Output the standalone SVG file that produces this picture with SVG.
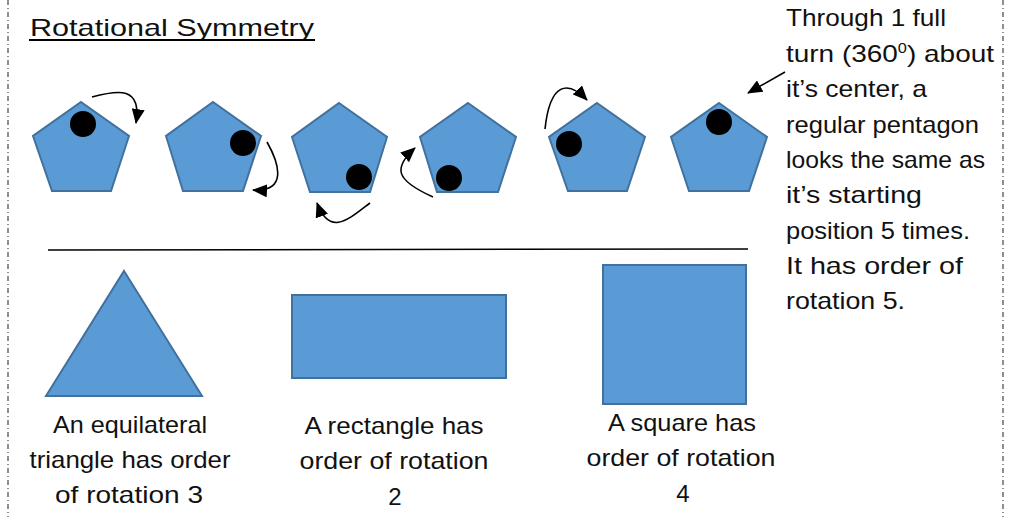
<svg xmlns="http://www.w3.org/2000/svg" width="1013" height="517" viewBox="0 0 1013 517">
<style>
.shape{fill:#5B9BD5;stroke:#41719C;stroke-width:2}
.dot{fill:#000}
.arr{fill:none;stroke:#000;stroke-width:1.6;marker-end:url(#ah)}
.t{font-family:"Liberation Sans",Arial,sans-serif;font-size:24px;fill:#111}
.c{text-anchor:middle}
.border{stroke:#444;stroke-width:1.2;stroke-dasharray:5 3 1 3}
</style>
<defs>
<marker id="ah" markerUnits="userSpaceOnUse" viewBox="0 0 15 13" refX="14" refY="6.5" markerWidth="15" markerHeight="13" orient="auto">
<path d="M0,0 L15,6.5 L0,13 z" fill="#000"/>
</marker>
</defs>
<rect width="1013" height="517" fill="#fff"/>
<line class="border" x1="8" y1="0" x2="8" y2="517"/>
<line class="border" x1="1003" y1="0" x2="1003" y2="517"/>
<g id="title">
<text class="t" x="30" y="36" font-size="28" textLength="284" lengthAdjust="spacingAndGlyphs">Rotational Symmetry</text>
<line x1="29" y1="40" x2="315" y2="40" stroke="#000" stroke-width="2"/>
</g>
<g id="pentagon1">
<polygon class="shape" points="81,102 129,136 111,191 52,191 33,136"/>
<circle class="dot" cx="83" cy="124" r="13"/>
</g>
<g id="pentagon2">
<polygon class="shape" points="213,102 261,136 243,191 183,191 166,136"/>
<circle class="dot" cx="243" cy="143" r="13"/>
</g>
<g id="pentagon3">
<polygon class="shape" points="339,103 387,137 370,192 310,192 292,137"/>
<circle class="dot" cx="359" cy="177" r="13"/>
</g>
<g id="pentagon4">
<polygon class="shape" points="468,103 516,137 498,192 437,192 420,137"/>
<circle class="dot" cx="449" cy="178" r="13"/>
</g>
<g id="pentagon5">
<polygon class="shape" points="597,103 645,137 627,191 568,191 549,137"/>
<circle class="dot" cx="569" cy="144" r="13"/>
</g>
<g id="pentagon6">
<polygon class="shape" points="719,103 767,137 749,191 689,191 671,137"/>
<circle class="dot" cx="719" cy="122" r="13"/>
</g>
<g id="connectors">
<path class="arr" d="M92,97 C118,90 142,86 136,123"/>
<path class="arr" d="M267,142 C280,165 287,192 253,190"/>
<path class="arr" d="M370,203 C350,218 330,238 317,203"/>
<path class="arr" d="M433,197 C395,180 393,168 415,148"/>
<path class="arr" d="M545,129 C550,82 568,80 587,100"/>
<path class="arr" d="M785,72 L748,93"/>
</g>
<line x1="48" y1="250" x2="748" y2="249" stroke="#000" stroke-width="1.5"/>
<g id="triangle">
<polygon class="shape" points="124,271 202,396 46,396"/>
<text class="t c" x="130" y="433" textLength="154" lengthAdjust="spacingAndGlyphs">An equilateral</text>
<text class="t c" x="130" y="468" textLength="201" lengthAdjust="spacingAndGlyphs">triangle has order</text>
<text class="t c" x="129" y="503" textLength="148" lengthAdjust="spacingAndGlyphs">of rotation 3</text>
</g>
<g id="rectangle">
<rect class="shape" x="292" y="295" width="214" height="83"/>
<text class="t c" x="394" y="434" textLength="179" lengthAdjust="spacingAndGlyphs">A rectangle has</text>
<text class="t c" x="394" y="469" textLength="189" lengthAdjust="spacingAndGlyphs">order of rotation</text>
<text class="t c" x="395" y="505" font-size="27">2</text>
</g>
<g id="square">
<rect class="shape" x="603" y="265" width="143" height="139"/>
<text class="t c" x="682" y="431" textLength="148" lengthAdjust="spacingAndGlyphs">A square has</text>
<text class="t c" x="681" y="466" textLength="189" lengthAdjust="spacingAndGlyphs">order of rotation</text>
<text class="t c" x="683" y="502" font-size="27">4</text>
</g>
<g id="note">
<text class="t" x="786" y="26" textLength="160" lengthAdjust="spacingAndGlyphs">Through 1 full</text>
<text class="t" x="786" y="62" textLength="208" lengthAdjust="spacingAndGlyphs">turn (360<tspan font-size="14" dy="-9">0</tspan><tspan dy="9">) about</tspan></text>
<text class="t" x="786" y="97" textLength="141" lengthAdjust="spacingAndGlyphs">it’s center, a</text>
<text class="t" x="786" y="133" textLength="193" lengthAdjust="spacingAndGlyphs">regular pentagon</text>
<text class="t" x="786" y="168" textLength="199" lengthAdjust="spacingAndGlyphs">looks the same as</text>
<text class="t" x="786" y="203" textLength="136" lengthAdjust="spacingAndGlyphs">it’s starting</text>
<text class="t" x="786" y="239" textLength="184" lengthAdjust="spacingAndGlyphs">position 5 times.</text>
<text class="t" x="786" y="274" textLength="177" lengthAdjust="spacingAndGlyphs">It has order of</text>
<text class="t" x="786" y="309" textLength="119" lengthAdjust="spacingAndGlyphs">rotation 5.</text>
</g>
</svg>
